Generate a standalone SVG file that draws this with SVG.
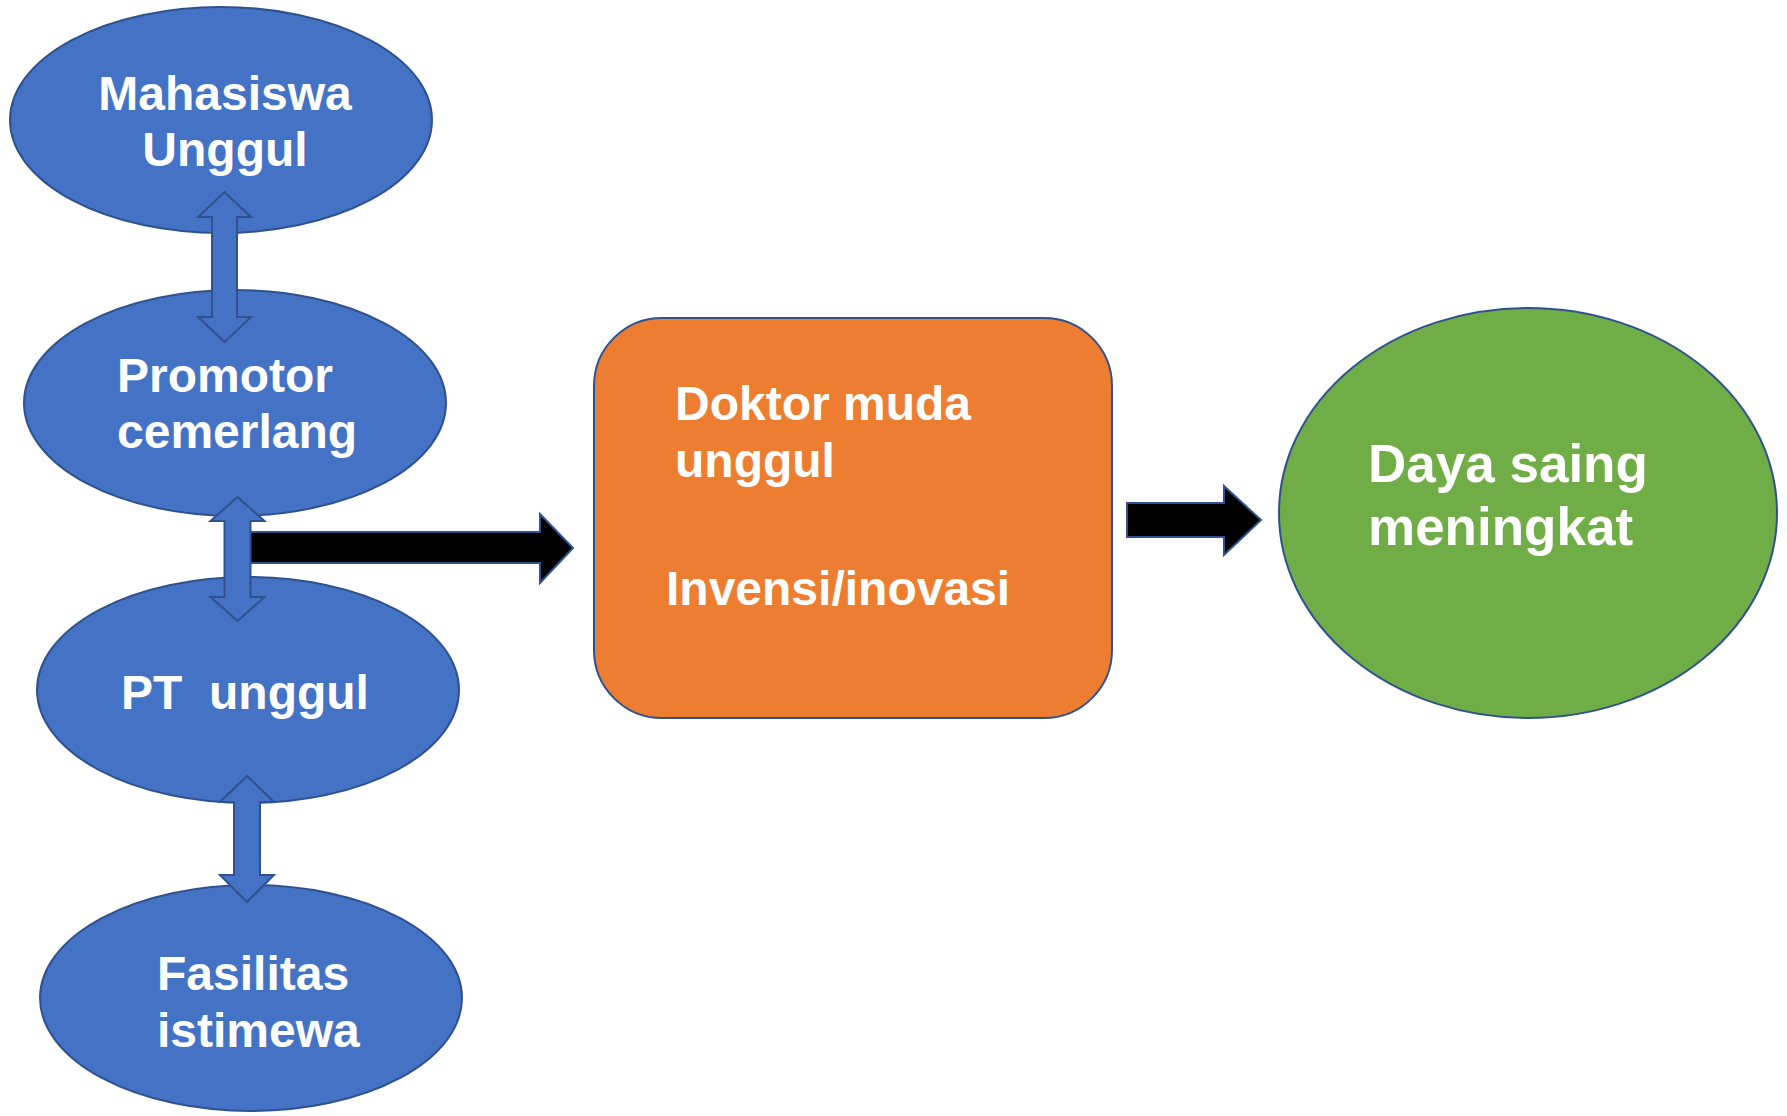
<svg xmlns="http://www.w3.org/2000/svg" width="1787" height="1116" viewBox="0 0 1787 1116">
<style>
.blue{fill:#4472C4;stroke:#2F528F;stroke-width:2}
.orange{fill:#ED7D31;stroke:#2F528F;stroke-width:2}
.green{fill:#70AD47;stroke:#2F528F;stroke-width:2}
.black{fill:#000000;stroke:#2F528F;stroke-width:2}
.t{font-family:"Liberation Sans",Arial,sans-serif;font-weight:bold;fill:#FFFFFF;font-size:48px}
.tb{font-family:"Liberation Sans",Arial,sans-serif;font-weight:bold;fill:#FFFFFF;font-size:53px}
</style>
<rect width="1787" height="1116" fill="#FFFFFF"/>
<g id="mahasiswa">
<ellipse class="blue" cx="221" cy="120" rx="211" ry="113"/>
<text class="t" x="225" y="110" text-anchor="middle">Mahasiswa</text>
<text class="t" x="225" y="166" text-anchor="middle">Unggul</text>
</g>
<g id="promotor">
<ellipse class="blue" cx="235" cy="403" rx="211" ry="113"/>
<text class="t" x="117" y="392">Promotor</text>
<text class="t" x="117" y="448">cemerlang</text>
</g>
<g id="pt">
<ellipse class="blue" cx="248" cy="690" rx="211" ry="113"/>
<text class="t" x="121" y="709" xml:space="preserve">PT  unggul</text>
</g>
<g id="fasilitas">
<ellipse class="blue" cx="251" cy="998" rx="211" ry="113"/>
<text class="t" x="157" y="990">Fasilitas</text>
<text class="t" x="157" y="1047">istimewa</text>
</g>
<g id="doktor">
<rect class="orange" x="594" y="318" width="518" height="400" rx="68" ry="68"/>
<text class="t" x="675" y="420">Doktor muda</text>
<text class="t" x="675" y="477">unggul</text>
<text class="t" x="666" y="605">Invensi/inovasi</text>
</g>
<g id="dayasaing">
<ellipse class="green" cx="1528" cy="513" rx="249" ry="205"/>
<text class="tb" x="1368" y="482">Daya saing</text>
<text class="tb" x="1368" y="545">meningkat</text>
</g>
<g id="connectors">
<path class="black" d="M245,532 L540,532 L540,514 L573,548 L540,583 L540,563 L245,563 Z"/>
<path class="blue" d="M224.5,192 L251,217 L237,217 L237,317 L251,317 L224.5,342 L198,317 L212,317 L212,217 L198,217 Z"/>
<path class="blue" d="M237.5,497 L264.5,521 L250.5,521 L250.5,597 L264.5,597 L237.5,621 L210.5,597 L224.5,597 L224.5,521 L210.5,521 Z"/>
<path class="blue" d="M247,776 L274,802 L260,802 L260,875 L274,875 L247,902 L220,875 L234,875 L234,802 L220,802 Z"/>
<path class="black" d="M1127,503 L1224,503 L1224,486 L1261,520 L1224,555 L1224,537 L1127,537 Z"/>
</g>
</svg>
